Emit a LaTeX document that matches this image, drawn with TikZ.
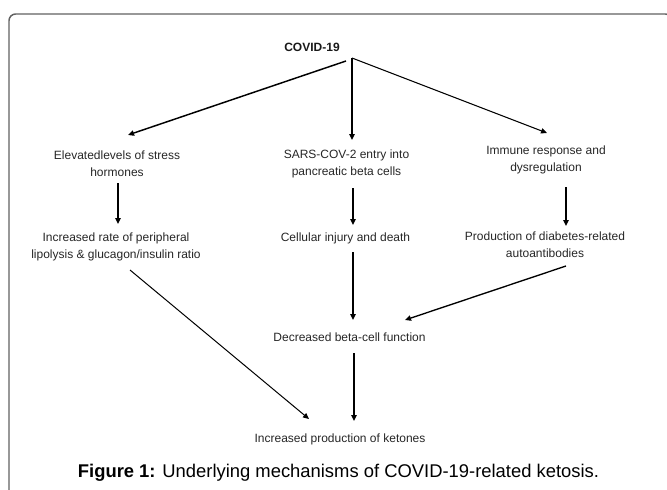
\documentclass[tikz,border=0pt]{standalone}
\usepackage{fontspec}
\setmainfont{Liberation Sans}
\usetikzlibrary{arrows.meta}
\begin{document}
\begin{tikzpicture}[x=0.75pt,y=-0.75pt,
  lbl/.style={inner sep=0pt, align=center, font=\fontsize{9}{12.75}\selectfont, text=black!85},
  arr/.style={-{Triangle[length=4.5pt,width=4pt]}, line width=0.8pt},
  varr/.style={arr, line width=1.2pt}]
\useasboundingbox (0,0) rectangle (667,489);
\begin{scope}
\clip (0,0) rectangle (667,489);
\draw[color=black!62, line width=1.1pt, rounded corners=5] (9,520) -- (9,14) -- (672,14) -- (672,520);
\end{scope}

% nodes
\node[lbl, font=\fontsize{9}{12.75}\selectfont\bfseries, text=black!90] (covid) at (312,47) {COVID-19};
\node[lbl] (stress) at (117,163.5) {Elevatedlevels of stress\\hormones};
\node[lbl] (sars) at (346.5,163.5) {SARS-COV-2 entry into\\pancreatic beta cells};
\node[lbl] (immune) at (546,160) {Immune response and\\dysregulation};
\node[lbl] (lipo) at (116,246.5) {Increased rate of peripheral\\lipolysis \& glucagon/insulin ratio};
\node[lbl] (cell) at (345.5,238) {Cellular injury and death};
\node[lbl] (prod) at (545,245) {Production of diabetes-related\\autoantibodies};
\node[lbl] (dec) at (349.5,337) {Decreased beta-cell function};
\node[lbl] (ket) at (340,439) {Increased production of ketones};
\node[inner sep=0pt, font=\fontsize{13.8}{16}\selectfont] (cap) at (338.5,473) {\textbf{Figure 1:} Underlying mechanisms of COVID-19-related ketosis.};

% connector end points
\coordinate (apex) at (352,58);
\coordinate (apexL) at (346,61);
\coordinate (stressIn) at (128,135);
\coordinate (sarsIn) at (352,140);
\coordinate (immuneIn) at (547,133);
\coordinate (stressOut) at (118,183);
\coordinate (lipoIn) at (118,224);
\coordinate (sarsOut) at (353,188);
\coordinate (cellIn) at (353,225);
\coordinate (immuneOut) at (566,187);
\coordinate (prodIn) at (566,226);
\coordinate (lipoOut) at (130,270);
\coordinate (ketInL) at (309,419);
\coordinate (cellOut) at (353,252);
\coordinate (decInM) at (353,320);
\coordinate (prodOut) at (566,266);
\coordinate (decInR) at (405,320);
\coordinate (decOut) at (354,353);
\coordinate (ketInM) at (354,421);

% connectors
\draw[arr, line width=1.1pt] (apexL) -- (stressIn);
\draw[varr] (apex) -- (sarsIn);
\draw[arr] (apex) -- (immuneIn);
\draw[varr] (stressOut) -- (lipoIn);
\draw[varr] (sarsOut) -- (cellIn);
\draw[varr, line width=1.5pt] (immuneOut) -- (prodIn);
\draw[arr, line width=0.75pt] (lipoOut) -- (ketInL);
\draw[varr] (cellOut) -- (decInM);
\draw[arr, line width=1pt] (prodOut) -- (decInR);
\draw[varr] (decOut) -- (ketInM);
\end{tikzpicture}
\end{document}
